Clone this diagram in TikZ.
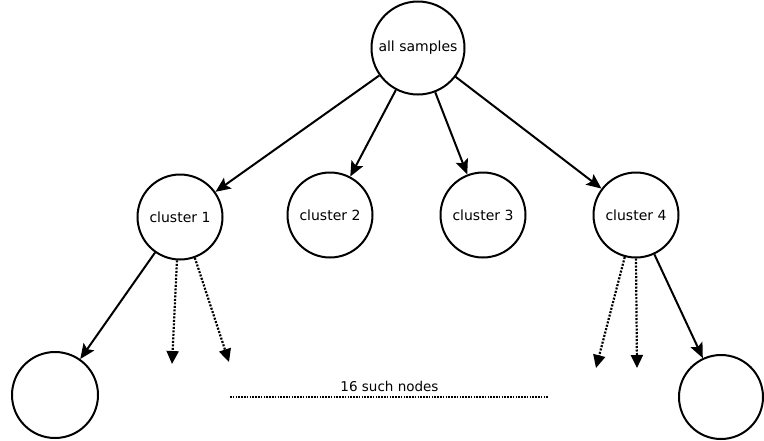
\documentclass[tikz,border=0pt]{standalone}
\usepackage{fontspec}
\setmainfont{DejaVu Sans}
\usetikzlibrary{arrows.meta}
\begin{document}
\begin{tikzpicture}[x=1pt,y=-1pt,
  circ/.style={draw,circle,line width=2pt,inner sep=0pt,font=\fontsize{14}{16}\selectfont},
  solidarrow/.style={line width=2pt,-{Stealth[length=15pt,width=13pt,inset=3pt]}},
  dotarrow/.style={line width=2.2pt,dash pattern=on 2pt off 1.5pt,-{Triangle[length=13pt,width=12pt]}},
  lbl/.style={font=\fontsize{13.5}{16}\selectfont}]
\useasboundingbox (0,0) rectangle (764,440);
\node[circ,minimum size=93pt] (top) at (418,48) {all samples};
\node[circ,minimum size=85pt] (c1) at (180,217) {cluster 1};
\node[circ,minimum size=85pt] (c2) at (330,215) {cluster 2};
\node[circ,minimum size=85pt] (c3) at (483,215) {cluster 3};
\node[circ,minimum size=85pt] (c4) at (636,215) {cluster 4};
\node[circ,minimum size=86pt] (bl) at (55,395) {};
\node[circ,minimum size=84pt] (br) at (721,397) {};
\coordinate (d1) at (172,364);
\coordinate (d2) at (229,362);
\coordinate (d3) at (596,368);
\coordinate (d4) at (637,368);
\coordinate (hl) at (230,397);
\coordinate (hr) at (549,397);
\draw[solidarrow] (top) -- (c1);
\draw[solidarrow] (top) -- (c2);
\draw[solidarrow] (top) -- (c3);
\draw[solidarrow] (top) -- (c4);
\draw[solidarrow] (c1) -- (bl);
\draw[solidarrow] (c4) -- (br);
\draw[dotarrow] (c1.-94) -- (d1);
\draw[dotarrow] (c1.-70) -- (d2);
\draw[dotarrow] (c4.-105) -- (d3);
\draw[dotarrow] (c4.-90) -- (d4);
\draw[line width=1.6pt,dash pattern=on 1.6pt off 1.2pt] (hl) -- (hr) node[lbl,midway,above=1pt] (txt) {16 such nodes};
\end{tikzpicture}
\end{document}
